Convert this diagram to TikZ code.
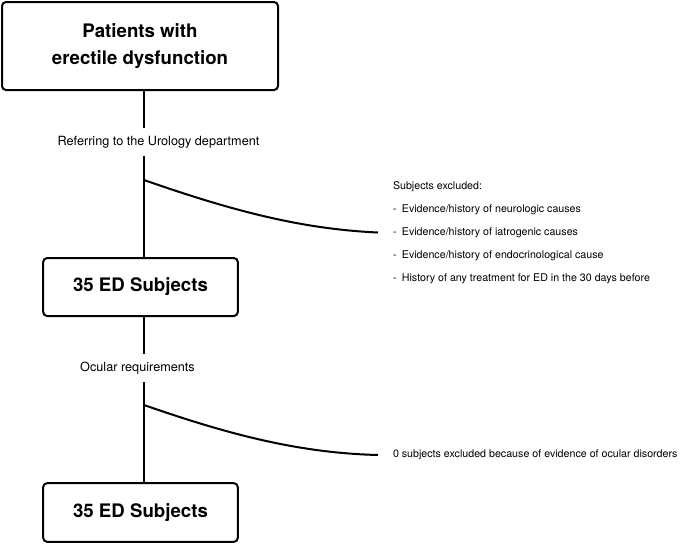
\documentclass[tikz,border=0pt]{standalone}
\usepackage{fontspec}
\setmainfont{TeX Gyre Heros}
\usetikzlibrary{positioning}
\tikzset{
	x=0.75pt, y=-0.75pt, % one unit is one pixel, y runs downwards
	every picture/.style={line width=1.5pt}, % every line is thick
	group/.style={draw, rounded corners=3pt, align=center, font=\bfseries\fontsize{14}{20}\selectfont}, % the boxes with the subjects
	phase/.style={inner xsep=0pt, inner ysep=5pt, font=\fontsize{9.5}{11}\selectfont}, % text on the line between two boxes
	excluded/.style={anchor=west, align=left, inner ysep=0pt, inner xsep=10.5pt, font=\fontsize{8}{17.25}\selectfont}, % who was left out
}

\begin{document}
\begin{tikzpicture}
	\useasboundingbox (0,0) rectangle (685,544);
			\node[group, minimum width=207pt, minimum height=66pt] at (140,46) (patients) {Patients with\\erectile dysfunction};
			\node[phase] at (158.5,142) (refer) {Referring to the Urology department};
			\node[group, minimum width=146pt, minimum height=43.5pt] at (140.5,287) (ed1) {35 ED Subjects};
			\node[phase] at (137.5,368) (ocular) {Ocular requirements};
			\node[group, minimum width=146pt, minimum height=44pt] at (140.5,512.5) (ed2) {35 ED Subjects};
			\node[excluded] at (378,232.5) (excl1) {Subjects excluded:\\
				-\hspace{4pt}Evidence/history of neurologic causes\\
				-\hspace{4pt}Evidence/history of iatrogenic causes\\
				-\hspace{4pt}Evidence/history of endocrinological cause\\
				-\hspace{4pt}History of any treatment for ED in the 30 days before};
			\node[excluded] at (378,455) (excl2) {0 subjects excluded because of evidence of ocular disorders};
			\coordinate (fork1) at (144,180);
			\coordinate (fork2) at (144,405);
	\draw 	(patients.south -| fork1) -- (refer.north -| fork1)
			(refer.south -| fork1) -- (ed1.north -| fork1)
			(ed1.south -| fork2) -- (ocular.north -| fork2)
			(ocular.south -| fork2) -- (ed2.north -| fork2);
	\draw 	(fork1) .. controls (230,210) and (300,229) .. (excl1.west)
			(fork2) .. controls (230,435) and (300,453) .. (excl2.west);
	\end{tikzpicture}
\end{document}
